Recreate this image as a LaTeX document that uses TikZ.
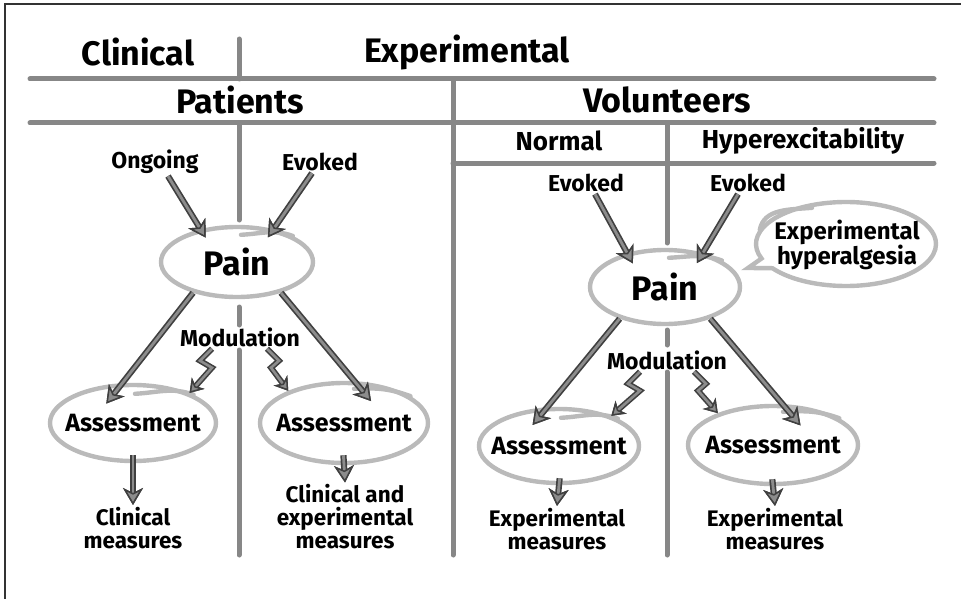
\documentclass[tikz,border=0pt]{standalone}
\usepackage{fontspec}
\setmainfont{Fira Sans}
\usetikzlibrary{positioning,arrows.meta,shapes.geometric,shapes.callouts}

\begin{document}
\begin{tikzpicture}[
    x=1pt, y=1pt,
    head/.style={font=\fontsize{34}{38}\selectfont\bfseries, inner sep=2pt},
    sub/.style={font=\fontsize{26}{30}\selectfont\bfseries, inner sep=2pt},
    lbl/.style={font=\fontsize{23}{26}\selectfont\bfseries, inner sep=2pt},
    big/.style={font=\fontsize{34}{38}\selectfont\bfseries, inner sep=2pt},
    box/.style={font=\fontsize{25}{28}\selectfont\bfseries, inner sep=2pt},
    meas/.style={font=\fontsize{22.5}{23}\selectfont\bfseries, align=center, inner sep=2pt},
    ring/.style={ellipse, draw=black!27, line width=4.4pt, inner sep=0pt},
    ringline/.style={draw=black!27, line width=4.4pt, line cap=round},
    rule/.style={draw=black!47, line width=5pt, line cap=round},
    arr/.style={draw=black!45, line width=2.8pt,
      -{Stealth[length=17pt, width=20pt, inset=5pt, line width=1.5pt, color=black!75, fill=black!45]},
      preaction={draw=black!75, line width=6.2pt,
        -{Stealth[length=17pt, width=20pt, inset=5pt, line width=1.5pt, color=black!75, fill=black!75]}}},
    zap/.style={draw=black!45, line width=2.6pt, line join=miter,
      -{Stealth[length=13pt, width=17pt, inset=4pt, line width=1.5pt, color=black!75, fill=black!45]},
      preaction={draw=black!75, line width=5.8pt, line join=miter,
        -{Stealth[length=13pt, width=17pt, inset=4pt, line width=1.5pt, color=black!75, fill=black!75]}}}
  ]
    \useasboundingbox (0,0) rectangle (961,-599);
    \draw[black!80, line width=1.3pt] (961,-4) -- (5,-4) -- (5,-599);

    % column headings and grid
    \node[head] (clinical) at (138,-52) {Clinical};
    \node[head] (experimental) at (467,-52) {Experimental};
    \node[head] (patients) at (240,-100) {Patients};
    \node[head] (volunteers) at (667,-100) {Volunteers};
    \node[sub] (normal) at (559,-141) {Normal};
    \node[sub] (hyperex) at (803,-141) {Hyperexcitability};

    \draw[rule] (30,-79) -- (934,-79);
    \draw[rule] (30,-123) -- (934,-123);
    \draw[rule] (453,-163) -- (934,-163);
    \draw[rule] (239,-39) -- (239,-79);
    \draw[rule] (453,-79) -- (453,-555);
    \draw[rule] (239,-123) -- (239,-220);
    \draw[rule] (239,-307) -- (239,-325);
    \draw[rule] (239,-350) -- (239,-555);
    \draw[rule] (667,-123) -- (667,-243);
    \draw[rule] (667,-330) -- (667,-345);
    \draw[rule] (667,-372) -- (667,-555);

    % patients
    \node[lbl] (ongoing) at (155,-162) {Ongoing};
    \node[lbl] (evokedA) at (320,-162) {Evoked};
    \node[ring, minimum width=152, minimum height=70] (painA) at (237,-262) {};
    \node[big] (painAtxt) at (painA) {Pain};
    \node[lbl] (modA) at (240,-337) {Modulation};
    \node[ring, minimum width=166, minimum height=76] (assessA) at (133,-423) {};
    \node[box] (assessAtxt) at (assessA) {Assessment};
    \node[ring, minimum width=168, minimum height=80] (assessB) at (344,-423) {};
    \node[box] (assessBtxt) at (assessB) {Assessment};
    \node[meas] (measA) at (133,-528) {Clinical\\measures};
    \node[meas] (measB) at (345,-517) {Clinical and\\experimental\\measures};

    % volunteers
    \node[lbl] (evokedB) at (586,-183) {Evoked};
    \node[lbl] (evokedC) at (748,-183) {Evoked};
    \node[ring, minimum width=150, minimum height=74] (painB) at (665,-287) {};
    \node[big] (painBtxt) at (painB) {Pain};
    \node[ring, ellipse callout, minimum width=180, minimum height=84,
      callout absolute pointer={(748,-268)}] (bubble) at (846,-244) {};
    \node[box, align=center, font=\fontsize{24}{23}\selectfont\bfseries] (bubbletxt) at (847,-245) {Experimental\\hyperalgesia};
    \node[lbl] (modB) at (667,-360) {Modulation};
    \node[ring, minimum width=160, minimum height=74] (assessC) at (559,-446) {};
    \node[box] (assessCtxt) at (assessC) {Assessment};
    \node[ring, minimum width=170, minimum height=78] (assessD) at (773,-445) {};
    \node[box] (assessDtxt) at (assessD) {Assessment};
    \node[meas] (measC) at (557,-529) {Experimental\\measures};
    \node[meas] (measD) at (775,-529) {Experimental\\measures};

    % overlapping pen strokes on the rings
    \draw[ringline] ([shift={(4,-10)}]painA.north) to[out=3, in=160] (painA.25);
    \draw[ringline] ([shift={(4,-10)}]painB.north) to[out=3, in=160] (painB.25);
    \draw[ringline] ([shift={(2,-11)}]assessA.north) to[out=3, in=160] (assessA.25);
    \draw[ringline] ([shift={(10,-8)}]assessB.north) to[out=3, in=160] (assessB.22);
    \draw[ringline] ([shift={(2,-11)}]assessC.north) to[out=3, in=160] (assessC.25);
    \draw[ringline] ([shift={(10,-8)}]assessD.north) to[out=3, in=160] (assessD.22);
    \draw[ringline] ([shift={(-34,-8)}]bubble.north) to[out=185, in=80] ([shift={(6,14)}]bubble.west);

    \draw[arr, shorten >=-10pt] ([xshift=13pt]ongoing.south) -- (painA.138);
    \draw[arr, shorten >=-10pt] ([xshift=-8pt]evokedA.south) -- (painA.42);
    \draw[arr, shorten >=-26pt] (painA.215) -- (assessA.105);
    \draw[arr, shorten >=-26pt] (painA.-35) -- (assessB.76);
    \draw[arr, shorten <=-8pt] (assessA.south) -- (measA.north);
    \draw[arr, shorten <=-10pt] (assessB.south) -- (measB.north);
    \draw[zap] ([xshift=-28pt]modA.south) -- ++(-12,-12) -- ++(12,-7) -- (assessA.28);
    \draw[zap] ([xshift=27pt]modA.south) -- ++(12,-12) -- ++(-8,-7) -- (assessB.150);

    \draw[arr, shorten >=-12pt] ([xshift=9pt]evokedB.south) -- (painB.138);
    \draw[arr, shorten >=-12pt] ([xshift=-10pt]evokedC.south) -- (painB.42);
    \draw[arr, shorten >=-23pt] (painB.215) -- (assessC.107);
    \draw[arr, shorten >=-28pt] (painB.-35) -- (assessD.77);
    \draw[arr, shorten <=-7pt] (assessC.south) -- (measC.north);
    \draw[arr, shorten <=-7pt] (assessD.south) -- (measD.north);
    \draw[zap] ([xshift=-27pt]modB.south) -- ++(-12,-12) -- ++(12,-7) -- (assessC.30);
    \draw[zap] ([xshift=27pt]modB.south) -- ++(12,-12) -- ++(-8,-7) -- (assessD.150);
  \end{tikzpicture}
\end{document}
